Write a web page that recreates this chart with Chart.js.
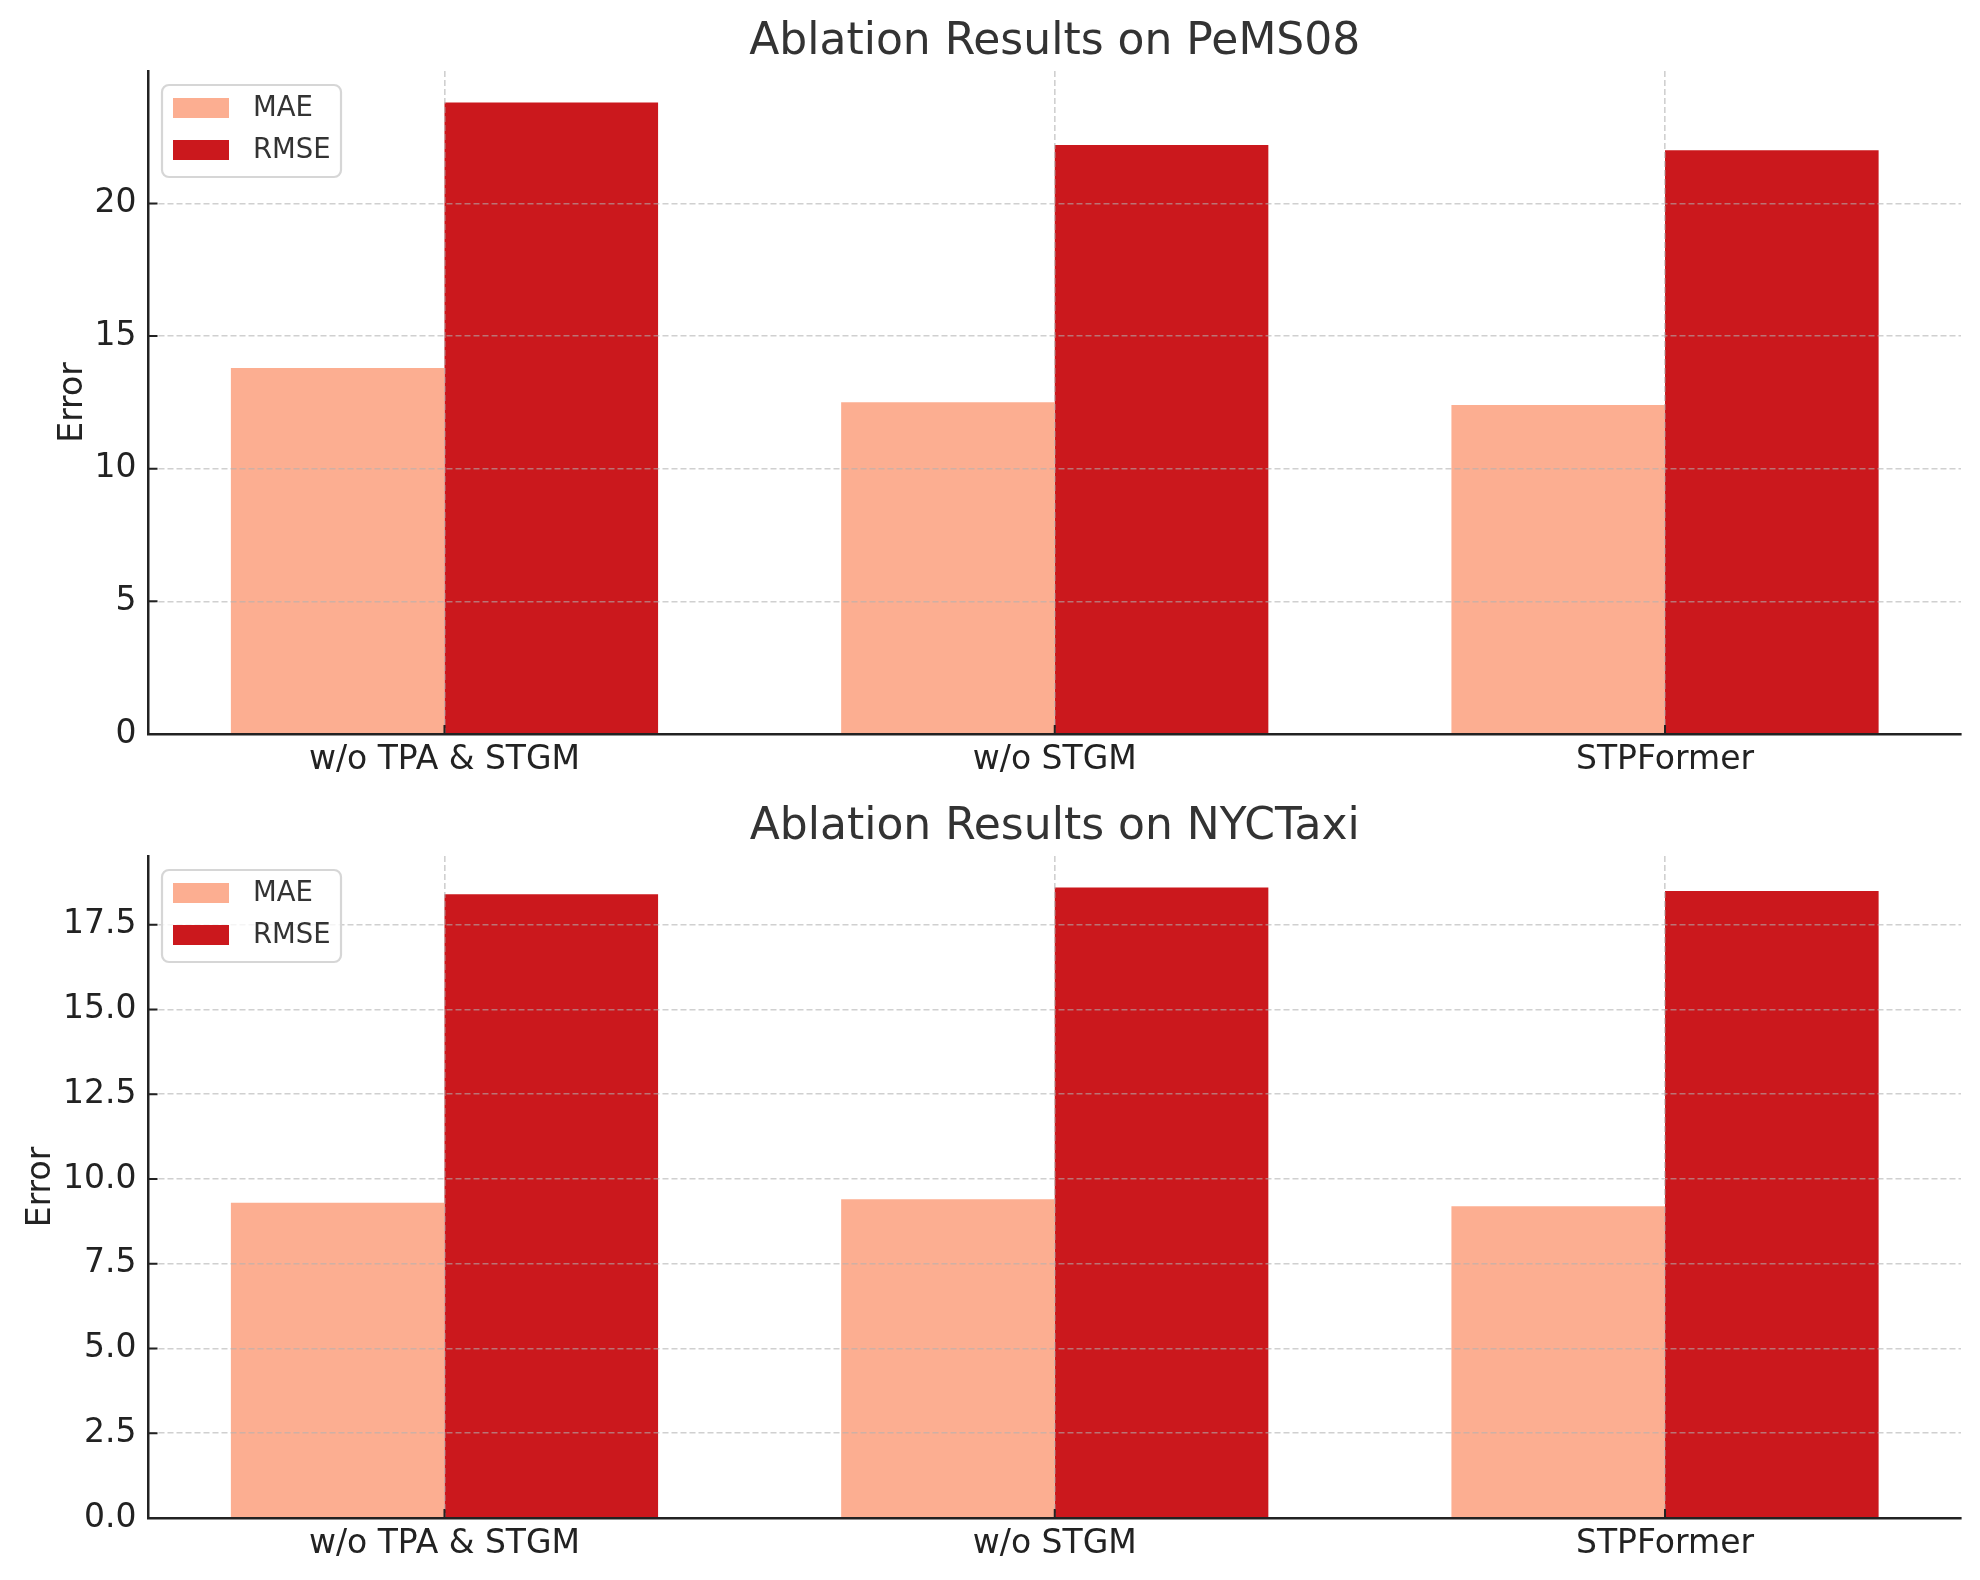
<!DOCTYPE html>
<html>
<head>
<meta charset="utf-8">
<script src="https://cdn.jsdelivr.net/npm/chart.js@4"></script>
<style>
html,body{margin:0;padding:0;background:#fff;}
#wrap{position:relative;width:1980px;height:1580px;background:#fff;}
.panel{position:absolute;left:0;width:1980px;height:790px;}
</style>
</head>
<body>
<div id="wrap">
  <div class="panel" style="top:0"><canvas id="c1" width="1980" height="790"></canvas></div>
  <div class="panel" style="top:790px"><canvas id="c2" width="1980" height="790"></canvas></div>
</div>
<script>
// ---- data ----
const categories = ['w/o TPA & STGM', 'w/o STGM', 'STPFormer'];
const seriesNames = ['MAE', 'RMSE'];
const pemsMAE  = [13.8, 12.5, 12.4];
const pemsRMSE = [23.8, 22.2, 22.0];
const taxiMAE  = [9.3, 9.4, 9.2];
const taxiRMSE = [18.4, 18.6, 18.5];
const pemsTicks = [0, 5, 10, 15, 20];
const taxiTicks = [0, 2.5, 5, 7.5, 10, 12.5, 15, 17.5];
const titles = ['Ablation Results on PeMS08', 'Ablation Results on NYCTaxi'];
const yLabel = 'Error';
const colors = ['#fcae91', '#cb181d'];

const FONT = 'DejaVu Sans';
const GRID = 'rgba(176,176,176,0.6)';

const inTicks = {
  id: 'inTicks',
  afterDraw(chart) {
    const {ctx, chartArea: a, scales: {x, y}} = chart;
    ctx.save();
    ctx.strokeStyle = '#222';
    ctx.lineWidth = 2;
    ctx.beginPath();
    y.ticks.forEach(t => { const py = y.getPixelForValue(t.value); ctx.moveTo(a.left, py); ctx.lineTo(a.left + 9, py); });
    x.ticks.forEach(t => { const px = x.getPixelForValue(t.value); ctx.moveTo(px, a.bottom); ctx.lineTo(px, a.bottom - 9); });
    ctx.stroke();
    ctx.restore();
  }
};

const boxLegend = {
  id: 'boxLegend',
  afterDraw(chart) {
    const {ctx, chartArea: a} = chart;
    const x0 = a.left + 13.5, y0 = a.top + 14, w = 179, h = 92;
    ctx.save();
    ctx.beginPath();
    ctx.roundRect(x0, y0, w, h, 7);
    ctx.fillStyle = 'rgba(255,255,255,0.8)';
    ctx.fill();
    ctx.strokeStyle = '#d6d6d6';
    ctx.lineWidth = 2.2;
    ctx.stroke();
    chart.data.datasets.forEach((ds, i) => {
      const sy = y0 + 13 + i * 42;
      ctx.fillStyle = ds.backgroundColor;
      ctx.fillRect(x0 + 11, sy, 56, 20);
      ctx.fillStyle = '#333';
      ctx.font = '27.5px "' + FONT + '"';
      ctx.textBaseline = 'middle';
      ctx.textAlign = 'left';
      ctx.fillText(ds.label, x0 + 91, sy + 11);
    });
    ctx.restore();
  }
};

function makeChart(id, title, mae, rmse, yTicks, fmt, L) {
  const ymax = Math.max(...mae, ...rmse) * 1.05;
  return new Chart(document.getElementById(id), {
    type: 'bar',
    data: {
      datasets: [
        {label: seriesNames[0], data: mae.map((v, i) => ({x: i, y: v})), backgroundColor: colors[0]},
        {label: seriesNames[1], data: rmse.map((v, i) => ({x: i, y: v})), backgroundColor: colors[1]}
      ]
    },
    options: {
      responsive: false,
      animation: false,
      devicePixelRatio: 1,
      layout: {padding: {left: 0, right: 19, top: 0, bottom: 0}},
      datasets: {bar: {barPercentage: 1, categoryPercentage: 0.7, borderWidth: 0}},
      plugins: {
        legend: {display: false},
        tooltip: {enabled: false},
        title: {
          display: true, text: title, color: '#333', fullSize: false,
          font: {family: FONT, size: 44, weight: 'normal', lineHeight: 1.2},
          padding: {top: L.titleTop, bottom: L.titleBottom}
        }
      },
      scales: {
        x: {
          type: 'linear', min: -0.485, max: 2.485, offset: false,
          afterBuildTicks: s => { s.ticks = categories.map((c, i) => ({value: i})); },
          afterFit: s => { s.height = L.xHeight; },
          ticks: {
            callback: v => categories[v], color: '#222',
            font: {family: FONT, size: 33, lineHeight: 1.2},
            padding: 7, autoSkip: false, maxRotation: 0, minRotation: 0
          },
          grid: {z: 1, offset: false, drawTicks: false, color: GRID, lineWidth: 1.6},
          border: {z: 2, display: true, color: '#222', width: 2.5, dash: [6, 3]}
        },
        y: {
          min: 0, max: ymax,
          afterBuildTicks: s => { s.ticks = yTicks.map(v => ({value: v})); },
          afterFit: s => { s.width = 148.5; },
          ticks: {callback: fmt, color: '#222', font: {family: FONT, size: 33, lineHeight: 1.2}, padding: 12},
          grid: {z: 1, drawTicks: false, color: GRID, lineWidth: 1.6},
          border: {z: 2, display: true, color: '#222', width: 2.5, dash: [6, 3]},
          title: {
            display: true, text: yLabel, color: '#222',
            font: {family: FONT, size: 33, lineHeight: 1.2},
            padding: {top: L.yTitlePad, bottom: 0}
          }
        }
      }
    },
    plugins: [inTicks, boxLegend]
  });
}

makeChart('c1', titles[0], pemsMAE, pemsRMSE, pemsTicks, v => String(v),
  {titleTop: 16.6, titleBottom: 1.6, xHeight: 56, yTitlePad: 54});
makeChart('c2', titles[1], taxiMAE, taxiRMSE, taxiTicks, v => Number(v).toFixed(1),
  {titleTop: 11.1, titleBottom: 2.1, xHeight: 62, yTitlePad: 22});
</script>
</body>
</html>
